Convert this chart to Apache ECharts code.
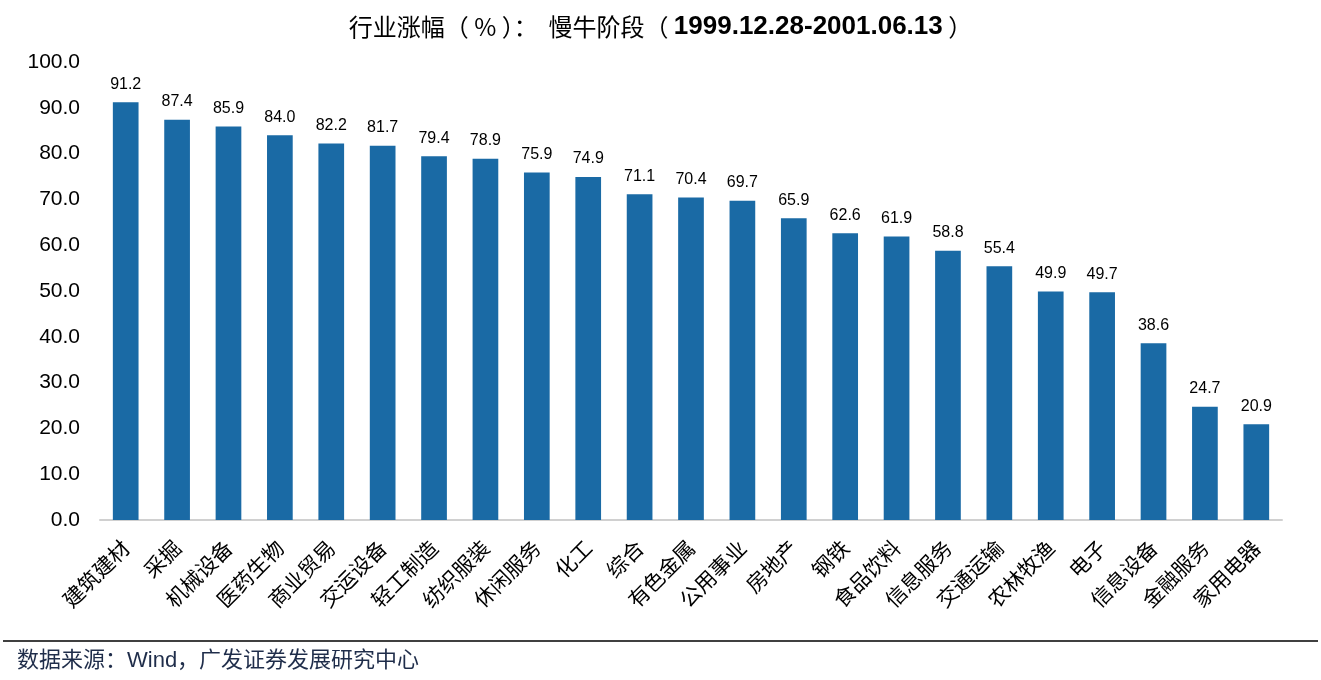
<!DOCTYPE html>
<html>
<head>
<meta charset="utf-8">
<script src="https://cdn.jsdelivr.net/npm/echarts@6/dist/echarts.min.js"></script>
<style>
html,body{margin:0;padding:0;background:#fff;}
#c{width:1321px;height:680px;}
</style>
</head>
<body>
<div id="c"></div>
<script>
const categories = ['建筑建材','采掘','机械设备','医药生物','商业贸易','交运设备','轻工制造','纺织服装','休闲服务','化工','综合','有色金属','公用事业','房地产','钢铁','食品饮料','信息服务','交通运输','农林牧渔','电子','信息设备','金融服务','家用电器'];
const values = [91.2,87.4,85.9,84.0,82.2,81.7,79.4,78.9,75.9,74.9,71.1,70.4,69.7,65.9,62.6,61.9,58.8,55.4,49.9,49.7,38.6,24.7,20.9];
const titleCn = '行业涨幅（ % ）：  慢牛阶段（ ';
const titleDates = '1999.12.28-2001.06.13';
const titleEnd = ' ）';
const sourceText = '数据来源：Wind，广发证券发展研究中心';

const chart = echarts.init(document.getElementById('c'));
chart.setOption({
  animation: false,
  title: {
    text: '{a|' + titleCn + '}{b|' + titleDates + '}{a|' + titleEnd + '}',
    left: 'center',
    top: 9,
    textStyle: {
      rich: {
        a: {fontSize: 24, fontWeight: 'normal', color: '#000', fontFamily: 'Noto Sans CJK SC, sans-serif'},
        b: {fontSize: 26, fontWeight: 'bold', color: '#000', fontFamily: 'Liberation Sans, Arial, sans-serif'}
      }
    }
  },
  graphic: [
    {type: 'line', shape: {x1: 3, y1: 641, x2: 1318, y2: 641}, style: {stroke: '#000', lineWidth: 1.5}},
    {type: 'text', left: 17, top: 650, style: {text: sourceText, fontSize: 22, fill: '#1f2d4a', fontFamily: 'Liberation Sans, Noto Sans CJK SC, sans-serif'}}
  ],
  grid: {left: 100, right: 39, top: 62, bottom: 160},
  xAxis: {
    type: 'category',
    data: categories,
    axisLine: {lineStyle: {color: '#d0d0d0', width: 2}},
    axisTick: {show: false},
    axisLabel: {rotate: 45, interval: 0, fontSize: 21, color: '#000', margin: 24, fontFamily: 'Noto Sans CJK SC, sans-serif'}
  },
  yAxis: {
    type: 'value',
    min: 0, max: 100, interval: 10,
    axisLine: {show: false},
    axisTick: {show: false},
    splitLine: {show: false},
    axisLabel: {fontSize: 21, color: '#000', margin: 20, fontFamily: 'Liberation Sans, sans-serif', formatter: v => v.toFixed(1)}
  },
  series: [{
    type: 'bar',
    data: values,
    barWidth: '50%',
    itemStyle: {color: '#1a6aa5'},
    label: {show: true, position: 'top', distance: 10, fontSize: 16, color: '#000', fontFamily: 'Liberation Sans, sans-serif', formatter: p => p.value.toFixed(1)}
  }]
});
</script>
</body>
</html>
